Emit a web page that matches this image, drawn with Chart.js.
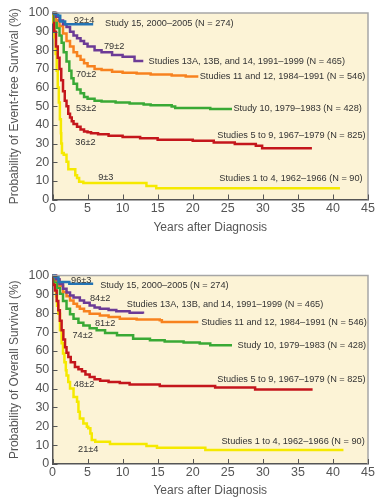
<!DOCTYPE html>
<html><head><meta charset="utf-8">
<script src="https://cdn.jsdelivr.net/npm/chart.js@4/dist/chart.umd.min.js"></script>
<style>
html,body{margin:0;padding:0;background:#fff;}
#wrap{width:379px;height:500px;}
canvas{display:block;}
</style></head><body>
<div id="wrap"><canvas id="efs" width="379" height="250"></canvas><canvas id="os" width="379" height="250"></canvas></div>
<script>
// ---------- tick labels ----------
const xTickValues = [0, 5, 10, 15, 20, 25, 30, 35, 40, 45];
const yTickValues = [0, 10, 20, 30, 40, 50, 60, 70, 80, 90, 100];

// ---------- series names ----------
const seriesNames = [
  "Study 15, 2000\u20132005 (N = 274)",
  "Studies 13A, 13B, and 14, 1991\u20131999 (N = 465)",
  "Studies 11 and 12, 1984\u20131991 (N = 546)",
  "Study 10, 1979\u20131983 (N = 428)",
  "Studies 5 to 9, 1967\u20131979 (N = 825)",
  "Studies 1 to 4, 1962\u20131966 (N = 90)"
];
const efsEstimates = ["92\u00b14", "79\u00b12", "70\u00b12", "53\u00b12", "36\u00b12", "9\u00b13"];
const osEstimates  = ["96\u00b13", "84\u00b12", "81\u00b12", "74\u00b12", "48\u00b12", "21\u00b14"];

// ---------- Event-free survival (years, %) ----------
const efs15Years = [0, 0.3, 0.8, 1.1, 1.8, 5.8];
const efs15Pct   = [100, 99.5, 98.5, 95.5, 94, 94];
const efs13Years = [0, 0.5, 1, 1.5, 2, 2.5, 3, 3.5, 4, 4.5, 5, 6, 7, 8.5, 10, 11.7, 12.95];
const efs13Pct   = [100, 98, 96, 94, 92.5, 90, 88, 86.5, 85, 83.5, 82, 80, 79, 77.5, 76.5, 74.3, 74.3];
const efs11Years = [0, 0.5, 1, 1.5, 2, 2.5, 3, 3.5, 4, 4.5, 5, 6, 7, 8.5, 10, 12, 14, 17, 19, 20.8];
const efs11Pct   = [100, 96, 93, 89, 85, 82, 79, 77, 75, 73, 71.5, 70, 69.5, 68.5, 68, 67.5, 67, 66.5, 66, 66];
const efs10Years = [0, 0.3, 0.6, 1, 1.3, 1.6, 2, 2.4, 2.7, 3, 3.5, 4, 4.5, 5, 6, 7, 9, 11, 13, 14, 17, 17.5, 22.5, 25.6];
const efs10Pct   = [100, 96, 92, 88, 84, 79, 74, 69, 65, 62, 59, 57, 55, 54, 53, 52.5, 52, 51.5, 51, 50.5, 49.8, 49, 48.5, 48.5];
const efs5Years  = [0, 0.25, 0.5, 0.75, 1, 1.25, 1.5, 1.75, 2, 2.25, 2.5, 2.75, 3, 3.5, 4, 4.5, 5, 5.5, 6.5, 8, 10, 12.5, 15, 20, 23, 26, 29, 29.9, 37];
const efs5Pct    = [100, 90, 82, 76, 70, 64, 58, 53, 50, 46, 44, 42, 40.5, 39, 37.5, 36.5, 36, 35.5, 35, 34.2, 33.5, 32.8, 32, 31.5, 30.5, 29.7, 28.8, 27.5, 27.5];
const efs1Years  = [0, 0.15, 0.3, 0.45, 0.6, 0.75, 0.9, 1.05, 1.2, 1.25, 1.35, 1.6, 2, 2.26, 3.25, 3.5, 3.8, 4.4, 13.4, 14.8, 41];
const efs1Pct    = [100, 95, 87, 78, 69, 60, 52, 43, 35.5, 30, 25, 24, 20.3, 16.2, 13, 11.5, 9.5, 8.8, 7.2, 6, 6];

// ---------- Overall survival (years, %) ----------
const os15Years = [0, 0.3, 0.85, 2.4, 5.8];
const os15Pct   = [100, 99.2, 96.6, 95.6, 95.6];
const os13Years = [0, 0.5, 1, 1.5, 2, 2.5, 3, 3.9, 4.5, 5.3, 6, 6.75, 8, 9.1, 11, 12.9];
const os13Pct   = [100, 98, 95.5, 93, 91, 89.4, 88.3, 86.8, 85.5, 84.1, 83, 82.4, 81.7, 81, 80.3, 79.7];
const os11Years = [0, 0.5, 1, 1.5, 2, 2.5, 3, 3.5, 3.9, 4.5, 5.3, 6.75, 8, 9.6, 12, 15.3, 15.6, 20.8];
const os11Pct   = [100, 97.5, 94.5, 91.2, 89, 86.8, 85, 83.5, 82.4, 81, 79.7, 78.8, 78, 77.1, 76.6, 76.2, 75.3, 75.3];
const os10Years = [0, 0.33, 0.7, 1.07, 1.5, 2, 2.5, 3, 3.7, 4.4, 5.3, 6.3, 7.5, 9.2, 11.5, 13.9, 16, 18.7, 21, 22.5, 25.6];
const os10Pct   = [100, 96.5, 93.5, 90.3, 86.5, 82.4, 79.5, 77.1, 75, 73.5, 72, 70.9, 69.5, 68.3, 66.5, 65.6, 65, 64.4, 63.9, 63, 63];
const os5Years  = [0, 0.2, 0.36, 0.6, 0.83, 1.05, 1.3, 1.55, 1.79, 2, 2.26, 2.6, 3.2, 3.7, 4.2, 4.7, 5.3, 6, 6.8, 8, 9.6, 11, 15.3, 23.2, 28.9, 37.1];
const os5Pct    = [100, 95, 92, 86.5, 81.5, 76, 70.9, 66, 62, 59, 56.8, 54, 51.5, 50.3, 49.2, 47.5, 46.2, 45, 44.2, 43.5, 43, 42.2, 41.4, 40.6, 39.5, 39.5];
const os1Years  = [0, 0.3, 0.5, 0.65, 0.83, 1.07, 1.3, 1.5, 1.7, 1.9, 2, 2.25, 2.5, 3, 3.5, 3.7, 3.9, 4.4, 4.9, 5.1, 5.4, 5.6, 6.1, 8.2, 13.4, 14.9, 21.8, 41.5];
const os1Pct    = [100, 95, 89, 84, 79.7, 70.9, 64, 58.6, 54, 49.7, 47, 43.5, 40, 35.6, 33, 27.7, 24.2, 21.5, 19.7, 18.9, 16.2, 12.7, 11.8, 10.6, 9.5, 8.6, 7.4, 7.4];

// ---------- styles ----------
const seriesColors = ['#2474b5', '#6c3b96', '#f7821f', '#39a935', '#c4161c', '#f5e900'];
const FONT = '"Liberation Sans", Arial, Helvetica, sans-serif';
Chart.defaults.font.family = FONT;

function pts(xs, ys) { return xs.map((v, i) => ({ x: v, y: ys[i] })); }

function makeDatasets(list) {
  return list.map((s, i) => ({
    label: seriesNames[i],
    data: pts(s[0], s[1]),
    borderColor: seriesColors[i],
    backgroundColor: seriesColors[i],
    borderWidth: 2.5,
    pointRadius: 0,
    stepped: true,
    fill: false,
    clip: 6,
    borderCapStyle: 'butt'
  }));
}

const framePlugin = {
  id: 'frame',
  beforeDraw(chart) {
    const { ctx, chartArea: a } = chart;
    ctx.save();
    ctx.fillStyle = '#fcf3d6';
    ctx.fillRect(a.left, a.top, a.right - a.left, a.bottom - a.top);
    ctx.restore();
  },
  afterDraw(chart, args, opts) {
    const { ctx, chartArea: a, scales: { x, y } } = chart;
    ctx.save();
    ctx.strokeStyle = '#a6a6a6';
    ctx.lineWidth = 1.5;
    ctx.beginPath();
    ctx.moveTo(a.left, a.top); ctx.lineTo(a.right, a.top); ctx.lineTo(a.right, a.bottom);
    ctx.stroke();
    ctx.strokeStyle = '#555';
    ctx.lineWidth = 1;
    ctx.beginPath();
    x.ticks.forEach(t => { const px = Math.round(x.getPixelForValue(t.value)) + 0.5; ctx.moveTo(px, a.bottom); ctx.lineTo(px, a.bottom - 5); });
    y.ticks.forEach(t => { const py = Math.round(y.getPixelForValue(t.value)) + 0.5; ctx.moveTo(a.left, py); ctx.lineTo(a.left + 5, py); });
    ctx.stroke();
    ctx.font = '9.2px ' + FONT;
    ctx.fillStyle = '#333';
    ctx.textBaseline = 'middle';
    (opts.items || []).forEach(it => {
      ctx.textAlign = it.align;
      ctx.fillText(it.text, x.getPixelForValue(it.x), y.getPixelForValue(it.y));
    });
    ctx.restore();
  }
};

function makeChart(id, datasets, yTitle, cfg) {
  return new Chart(document.getElementById(id), {
    type: 'line',
    data: { datasets },
    plugins: [framePlugin],
    options: {
      responsive: false,
      devicePixelRatio: 1,
      animation: false,
      events: [],
      layout: { padding: { top: cfg.top, right: 11, left: 0, bottom: 0 } },
      plugins: { legend: { display: false }, tooltip: { enabled: false }, frame: { items: cfg.items } },
      scales: {
        x: {
          type: 'linear', min: 0, max: 45,
          afterBuildTicks: s => { s.ticks = xTickValues.map(v => ({ value: v })); },
          afterFit: s => { s.height = cfg.xh; },
          grid: { display: false, drawTicks: false },
          border: { display: true, color: '#555', width: 1.5 },
          ticks: { padding: 1.5, color: '#555', font: { size: 12.5 }, maxRotation: 0 },
          title: { display: true, text: 'Years after Diagnosis', color: '#555', font: { size: 12 }, padding: { top: 0, bottom: cfg.tpb } }
        },
        y: {
          type: 'linear', min: 0, max: 100,
          afterBuildTicks: s => { s.ticks = yTickValues.map(v => ({ value: v })); },
          afterFit: s => { s.width = 52.5; },
          grid: { display: false, drawTicks: false },
          border: { display: true, color: '#555', width: 1.5 },
          ticks: { padding: 3.2, color: '#555', font: { size: 12.5 } },
          title: { display: true, text: yTitle, color: '#555', font: { size: 12 }, padding: { top: 7.8, bottom: 0 } }
        }
      }
    }
  });
}

const efsItems = [
  { text: efsEstimates[0], x: 4.5, y: 96.2, align: 'center' },
  { text: seriesNames[0], x: 7.5, y: 94.5, align: 'left' },
  { text: efsEstimates[1], x: 8.8, y: 81.9, align: 'center' },
  { text: seriesNames[1], x: 13.7, y: 73.9, align: 'left' },
  { text: efsEstimates[2], x: 4.8, y: 67.3, align: 'center' },
  { text: seriesNames[2], x: 21.0, y: 66.2, align: 'left' },
  { text: efsEstimates[3], x: 4.8, y: 48.9, align: 'center' },
  { text: seriesNames[3], x: 25.8, y: 48.9, align: 'left' },
  { text: efsEstimates[4], x: 4.7, y: 30.5, align: 'center' },
  { text: seriesNames[4], x: 23.5, y: 34.6, align: 'left' },
  { text: efsEstimates[5], x: 7.6, y: 11.9, align: 'center' },
  { text: seriesNames[5], x: 23.8, y: 11.4, align: 'left' }
];
const osItems = [
  { text: osEstimates[0], x: 4.1, y: 97.4, align: 'center' },
  { text: seriesNames[0], x: 6.8, y: 94.7, align: 'left' },
  { text: osEstimates[1], x: 6.8, y: 87.7, align: 'center' },
  { text: seriesNames[1], x: 10.6, y: 84.7, align: 'left' },
  { text: osEstimates[2], x: 7.5, y: 74.8, align: 'center' },
  { text: seriesNames[2], x: 21.2, y: 75.3, align: 'left' },
  { text: osEstimates[3], x: 4.3, y: 68.3, align: 'center' },
  { text: seriesNames[3], x: 26.4, y: 63.0, align: 'left' },
  { text: osEstimates[4], x: 4.5, y: 42.3, align: 'center' },
  { text: seriesNames[4], x: 23.5, y: 44.8, align: 'left' },
  { text: osEstimates[5], x: 5.1, y: 7.8, align: 'center' },
  { text: seriesNames[5], x: 24.1, y: 12.2, align: 'left' }
];

makeChart('efs', makeDatasets([
  [efs15Years, efs15Pct], [efs13Years, efs13Pct], [efs11Years, efs11Pct],
  [efs10Years, efs10Pct], [efs5Years, efs5Pct], [efs1Years, efs1Pct]
]), 'Probability of Event-free Survival (%)', { top: 13, xh: 50.5, tpb: 15.5, items: efsItems });

makeChart('os', makeDatasets([
  [os15Years, os15Pct], [os13Years, os13Pct], [os11Years, os11Pct],
  [os10Years, os10Pct], [os5Years, os5Pct], [os1Years, os1Pct]
]), 'Probability of Overall Survival (%)', { top: 25.5, xh: 36, tpb: 1.8, items: osItems });
</script>
</body></html>
